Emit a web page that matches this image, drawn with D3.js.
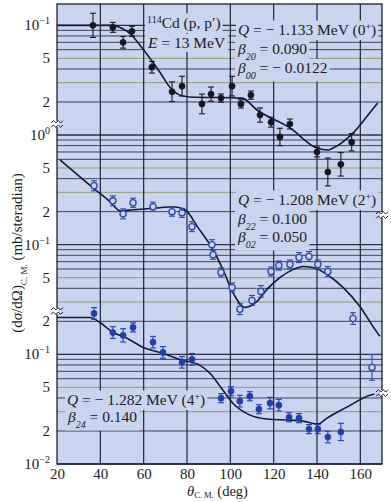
<!DOCTYPE html>
<html>
<head>
<meta charset="utf-8">
<script src="https://cdn.jsdelivr.net/npm/d3@7"></script>
<style>
  body { margin: 0; background: #fff; }
  text { font-family: "Liberation Serif", "DejaVu Serif", serif; fill: #1b1b24; }
</style>
</head>
<body>
<div id="chart"></div>
<script>
// 114Cd (p,p') inelastic scattering, E = 13 MeV

// 0+ state (top, filled black)
const angles0 = [36.6, 45.8, 50.5, 54.6, 63.8, 73.1, 77.7, 86.9, 91.1, 95.7, 100.8, 104.9, 109.5, 113.7, 118.8, 122.9, 127.5, 140, 145, 151, 156];
const sigma0 = [0.100, 0.0959, 0.0700, 0.0882, 0.0415, 0.0248, 0.0279, 0.0192, 0.0236, 0.0217, 0.0279, 0.0192, 0.0231, 0.0152, 0.0131, 0.0096, 0.0126, 0.0070, 0.0046, 0.0054, 0.0086];
const err0 = [0.29, 0.11, 0.13, 0.11, 0.13, 0.23, 0.23, 0.23, 0.16, 0.09, 0.23, 0.09, 0.09, 0.16, 0.11, 0.2, 0.11, 0.11, 0.34, 0.28, 0.2];
const fitAngles0 = [20, 45.8, 49.9, 54.6, 58.3, 62.9, 67.5, 72.1, 76.8, 81.4, 105.4, 112.3, 127.5, 140, 145, 147.4, 156.6, 165.4, 168];
const fit0 = [0.1, 0.1, 0.0939, 0.0811, 0.0658, 0.0501, 0.0374, 0.0273, 0.0231, 0.0222, 0.0217, 0.0169, 0.0116, 0.0076, 0.0073, 0.0076, 0.0104, 0.0169, 0.0196];

// 2+ state (middle, open circles)
const angles2 = [37.1, 45.8, 50.5, 55.1, 64.3, 73.1, 77.7, 82.3, 91.5, 92, 95.7, 100.8, 104.4, 110, 114.1, 118.8, 122.4, 127.5, 131.7, 136.3, 140.4, 145, 156.6, 165.4];
const sigma2 = [0.344, 0.251, 0.191, 0.241, 0.222, 0.200, 0.195, 0.146, 0.100, 0.081, 0.0557, 0.0407, 0.0258, 0.031, 0.0375, 0.0569, 0.0645, 0.066, 0.0763, 0.078, 0.066, 0.0569, 0.0212, 0.0076];
const err2 = [0.11, 0.11, 0.11, 0.1, 0.1, 0.1, 0.1, 0.11, 0.11, 0.1, 0.1, 0.1, 0.12, 0.11, 0.13, 0.1, 0.1, 0.1, 0.11, 0.11, 0.1, 0.11, 0.13, 0.31];
const fitAngles2 = [21.4, 36.6, 44.5, 49.1, 55.1, 67.5, 73.5, 79.1, 85.1, 92, 96.6, 101.2, 106.8, 112.3, 116.9, 122.9, 128.9, 133.5, 138.1, 144.6, 152, 159.8, 165.8, 169];
const fit2 = [0.593, 0.330, 0.246, 0.204, 0.208, 0.217, 0.222, 0.208, 0.143, 0.0899, 0.0592, 0.0366, 0.0268, 0.0304, 0.0391, 0.0502, 0.0592, 0.0633, 0.0620, 0.0535, 0.0408, 0.0273, 0.0180, 0.0146];

// 4+ state (bottom, filled blue)
const angles4 = [37.1, 45.8, 50.5, 55.1, 64.3, 68.9, 77.7, 82.3, 95.7, 100.3, 104.4, 109, 113.2, 118.3, 122.4, 127.1, 131.7, 136.3, 140.4, 145, 151];
const sigma4 = [0.236, 0.158, 0.149, 0.176, 0.129, 0.104, 0.0846, 0.0901, 0.0398, 0.0461, 0.0374, 0.0415, 0.0316, 0.0359, 0.0344, 0.0267, 0.0262, 0.0208, 0.0208, 0.0176, 0.0196];
const err4 = [0.13, 0.13, 0.15, 0.1, 0.13, 0.13, 0.13, 0.13, 0.1, 0.1, 0.13, 0.1, 0.1, 0.13, 0.13, 0.1, 0.1, 0.1, 0.1, 0.13, 0.2];
const fitAngles4 = [20, 35.2, 39.8, 45.8, 52.3, 59.7, 68.9, 78.1, 86, 90.6, 96.6, 101.2, 109.1, 116.9, 127.5, 133.5, 140.4, 144.6, 153.8, 164.4, 166.5];
const fit4 = [0.217, 0.217, 0.195, 0.159, 0.140, 0.116, 0.102, 0.0882, 0.0794, 0.0672, 0.0470, 0.0358, 0.0279, 0.0257, 0.0251, 0.0246, 0.0231, 0.0262, 0.0330, 0.0424, 0.0435];

const xTicks = [20, 40, 60, 80, 100, 120, 140, 160];
const topTicks = [0.1, 0.05, 0.02];
const midTicks = [1, 0.5, 0.2, 0.1, 0.05];
const botTicks = [0.2, 0.1, 0.05, 0.02, 0.01];

const W = 391, H = 502;
const L = 57, R = 382, T = 4, B = 464;
const bg = "#c9d5ee";

const svg = d3.select("#chart").append("svg").attr("width", W).attr("height", H);

const x = d3.scaleLinear().domain([20, 170]).range([L, R]);
// one continuous log grid, each panel shifted by a decade
const yGrid = d3.scaleLog().domain([1, 0.001]).range([135, B]);
const yTop = d3.scaleLog().domain([0.01, 0.00001]).range([135, B]);
const yMid = d3.scaleLog().domain([1, 0.001]).range([135, B]);
const yBot = d3.scaleLog().domain([10, 0.01]).range([135, B]);

svg.append("rect").attr("x", L).attr("y", T).attr("width", R - L).attr("height", B - T).attr("fill", bg);

// grid
const grid = svg.append("g");
const gridVals = [];
for (let n = -3; n <= 1; n++) for (let k = 1; k <= 9; k++) gridVals.push({ v: k * Math.pow(10, n), k: k });
grid.selectAll("line.h").data(gridVals.filter(d => yGrid(d.v) >= T && yGrid(d.v) <= B)).join("line")
  .attr("class", "h")
  .attr("x1", L).attr("x2", R)
  .attr("y1", d => yGrid(d.v)).attr("y2", d => yGrid(d.v))
  .attr("stroke", d => (d.k == 3 || d.k == 5) ? "#8d955e" : "#2a3046")
  .attr("stroke-width", d => d.k == 1 ? 1.4 : 0.9);
grid.selectAll("line.v").data(xTicks.slice(1)).join("line")
  .attr("class", "v")
  .attr("x1", d => x(d)).attr("x2", d => x(d))
  .attr("y1", T).attr("y2", B)
  .attr("stroke", "#1f2438").attr("stroke-width", 1.2);

// annotation boxes + text
const boxes = svg.append("g");
const notes = svg.append("g").style("font-size", "15.5px");

function note(px, py, parts) {
  const t = notes.append("text").attr("x", px).attr("y", py);
  parts.forEach(p => {
    const s = t.append("tspan").text(p.t);
    if (p.i) s.style("font-style", "italic");
    if (p.sup) s.attr("baseline-shift", "super").style("font-size", "10px");
    if (p.sub) s.attr("baseline-shift", "sub").style("font-size", "10px").style("font-style", "italic");
  });
  const b = t.node().getBBox();
  boxes.append("rect").attr("x", b.x - 2).attr("y", b.y).attr("width", b.width + 4).attr("height", b.height + 1).attr("fill", bg);
  return t;
}

note(147, 28, [{ t: "114", sup: 1 }, { t: "Cd (p, p′)" }]);
note(148, 48, [{ t: "E", i: 1 }, { t: " = 13 MeV" }]);
note(238, 35, [{ t: "Q", i: 1 }, { t: " = − 1.133 MeV (0" }, { t: "+", sup: 1 }, { t: ")" }]);
note(238, 54, [{ t: "β", i: 1 }, { t: "20", sub: 1 }, { t: " = 0.090" }]);
note(238, 73, [{ t: "β", i: 1 }, { t: "00", sub: 1 }, { t: " = − 0.0122" }]);
note(238, 205, [{ t: "Q", i: 1 }, { t: " = − 1.208 MeV (2" }, { t: "+", sup: 1 }, { t: ")" }]);
note(238, 224, [{ t: "β", i: 1 }, { t: "22", sub: 1 }, { t: " = 0.100" }]);
note(238, 242, [{ t: "β", i: 1 }, { t: "02", sub: 1 }, { t: " = 0.050" }]);
note(67, 405, [{ t: "Q", i: 1 }, { t: " = − 1.282 MeV (4" }, { t: "+", sup: 1 }, { t: ")" }]);
note(68, 422, [{ t: "β", i: 1 }, { t: "24", sub: 1 }, { t: " = 0.140" }]);

// fit curves
const series = [
  { a: fitAngles0, v: fit0, y: yTop },
  { a: fitAngles2, v: fit2, y: yMid },
  { a: fitAngles4, v: fit4, y: yBot }
];
series.forEach(s => {
  const line = d3.line().x(d => x(d[0])).y(d => s.y(d[1])).curve(d3.curveMonotoneX);
  svg.append("path").datum(d3.zip(s.a, s.v)).attr("d", line)
    .attr("fill", "none").attr("stroke", "#141a3c").attr("stroke-width", 1.6);
});

// data points with error bars
function points(angles, vals, errs, y, color, open) {
  const g = svg.append("g");
  const d = d3.zip(angles, vals, errs);
  const eb = g.selectAll("g").data(d).join("g").attr("stroke", color).attr("stroke-width", 1.1);
  eb.append("line").attr("x1", p => x(p[0])).attr("x2", p => x(p[0]))
    .attr("y1", p => y(p[1] * (1 + p[2]))).attr("y2", p => y(p[1] / (1 + p[2])));
  eb.append("line").attr("x1", p => x(p[0]) - 3).attr("x2", p => x(p[0]) + 3)
    .attr("y1", p => y(p[1] * (1 + p[2]))).attr("y2", p => y(p[1] * (1 + p[2])));
  eb.append("line").attr("x1", p => x(p[0]) - 3).attr("x2", p => x(p[0]) + 3)
    .attr("y1", p => y(p[1] / (1 + p[2]))).attr("y2", p => y(p[1] / (1 + p[2])));
  g.selectAll("circle").data(d).join("circle")
    .attr("cx", p => x(p[0])).attr("cy", p => y(p[1])).attr("r", 3.1)
    .attr("fill", open ? bg : color).attr("stroke", color).attr("stroke-width", open ? 1.3 : 0.5);
}
points(angles0, sigma0, err0, yTop, "#16161e", false);
points(angles2, sigma2, err2, yMid, "#2b4aa6", true);
points(angles4, sigma4, err4, yBot, "#1f3fae", false);

// frame
svg.append("rect").attr("x", L).attr("y", T).attr("width", R - L).attr("height", B - T)
  .attr("fill", "none").attr("stroke", "#1b1f30").attr("stroke-width", 1.3);

// axis breaks
function brk(px, py) {
  const g = svg.append("g");
  g.append("rect").attr("x", px - 2).attr("y", py - 3).attr("width", 4).attr("height", 6).attr("fill", "#fff");
  [-2.2, 2.2].forEach(o => {
    g.append("path").attr("d", `M${px - 6},${py + o + 1.2} l2.4,-2.4 l2.4,2.4 l2.4,-2.4 l2.4,2.4 l2.4,-2.4`)
      .attr("fill", "none").attr("stroke", "#1b1f30").attr("stroke-width", 1);
  });
}
brk(L, 124); brk(L, 311); brk(R, 215); brk(R, 393);

// y tick labels
const sup = { "-1": "−1", "0": "0", "-2": "−2" };
function yLabels(ticks, y) {
  ticks.forEach(v => {
    const e = Math.round(Math.log10(v));
    const t = svg.append("text").attr("x", 50).attr("y", y(v) + 5).attr("text-anchor", "end").style("font-size", "15px");
    if (Math.abs(v - Math.pow(10, e)) < 1e-9) {
      t.append("tspan").text("10");
      t.append("tspan").text(sup[String(e)]).attr("dy", -6).style("font-size", "10px");
    } else {
      t.text(String(Math.round(v / Math.pow(10, Math.floor(Math.log10(v) + 1e-9)))));
    }
  });
}
yLabels(topTicks, yTop);
yLabels(midTicks, yMid);
yLabels(botTicks, yBot);

// x axis
const xa = svg.append("g").attr("transform", `translate(0,${B})`)
  .call(d3.axisBottom(x).tickValues(xTicks).tickSize(0).tickPadding(4));
xa.select(".domain").remove();
xa.selectAll("text").style("font-size", "15px").style("font-family", "Liberation Serif, serif").attr("fill", "#1b1b24");

// axis titles
const xt = svg.append("text").attr("x", 187).attr("y", 496).style("font-size", "14.5px");
xt.append("tspan").text("θ").style("font-style", "italic");
xt.append("tspan").text("C. M.").attr("dy", 2).style("font-size", "8.5px");
xt.append("tspan").text(" (deg)").attr("dy", -2);

const yt = svg.append("text").attr("transform", "translate(22,253) rotate(-90)").attr("text-anchor", "middle").style("font-size", "15px");
yt.append("tspan").text("(d");
yt.append("tspan").text("σ").style("font-style", "italic");
yt.append("tspan").text("/dΩ)");
yt.append("tspan").text("C. M.").attr("baseline-shift", "sub").style("font-size", "9px");
yt.append("tspan").text(" (mb/steradian)").attr("baseline-shift", "0");
</script>
</body>
</html>
